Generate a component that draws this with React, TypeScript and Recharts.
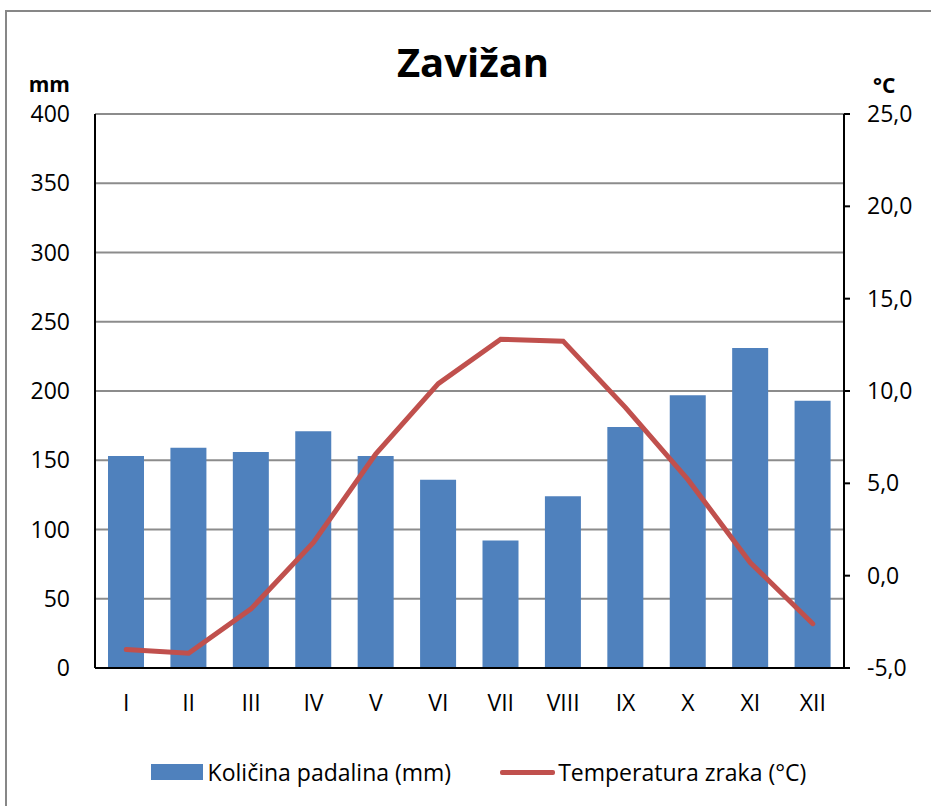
import React from "react";
import { ComposedChart, Bar, Line, XAxis, YAxis, CartesianGrid, Legend } from "recharts";

const months = ["I", "II", "III", "IV", "V", "VI", "VII", "VIII", "IX", "X", "XI", "XII"];
const precipitation = [153, 159, 156, 171, 153, 136, 92, 124, 174, 197, 231, 193];
const temperature = [-4.0, -4.2, -1.8, 1.8, 6.6, 10.4, 12.8, 12.7, 9.1, 5.2, 0.7, -2.6];
const leftTicks = [0, 50, 100, 150, 200, 250, 300, 350, 400];
const rightTicks = [-5, 0, 5, 10, 15, 20, 25];
const title = "Zavižan";
const precipName = "Količina padalina (mm)";
const tempName = "Temperatura zraka (°C)";

const data = months.map((m, i) => ({ month: m, p: precipitation[i], t: temperature[i] }));

const FONT = "'Open Sans', sans-serif";
const BAR = "#4F81BD";
const LINE = "#C0504D";

const fmtRight = (v: number) => v.toFixed(1).replace(".", ",");

const LegendContent = () => (
  <div
    style={{
      display: "flex",
      justifyContent: "center",
      alignItems: "center",
      height: 40,
      fontFamily: FONT,
      fontSize: 23,
      color: "#000",
      paddingLeft: 26,
    }}
  >
    <span style={{ display: "inline-block", width: 52, height: 16, background: BAR, marginRight: 5 }} />
    <span style={{ marginRight: 49 }}>{precipName}</span>
    <span style={{ display: "inline-block", width: 55, height: 5, background: LINE, marginRight: 3, borderRadius: 2 }} />
    <span>{tempName}</span>
  </div>
);

export default function App() {
  return (
    <div style={{ position: "absolute", left: 0, top: 0, width: 931, height: 806, background: "#fff" }}>
      <div
        style={{
          position: "absolute",
          left: 5,
          top: 10,
          width: 940,
          height: 820,
          border: "2px solid #878787",
          boxSizing: "border-box",
        }}
      />
      <div style={{ position: "absolute", left: 0, top: 0 }}>
        <ComposedChart
          width={931}
          height={806}
          data={data}
          margin={{ top: 114, right: 0, bottom: 14, left: 0 }}
        >
          <CartesianGrid yAxisId="left" vertical={false} stroke="#8c8c8c" strokeWidth={2} />
          <XAxis
            dataKey="month"
            height={84}
            tickLine={false}
            tickSize={0}
            tickMargin={27}
            axisLine={{ stroke: "#000", strokeWidth: 2 }}
            tick={{ fontFamily: FONT, fontSize: 23, fill: "#000" }}
            interval={0}
          />
          <YAxis
            yAxisId="left"
            orientation="left"
            width={95}
            domain={[0, 400]}
            ticks={leftTicks}
            tickLine={false}
            tickSize={0}
            tickMargin={25}
            axisLine={{ stroke: "#000", strokeWidth: 2 }}
            tick={{ fontFamily: FONT, fontSize: 23, fill: "#000" }}
          />
          <YAxis
            yAxisId="right"
            orientation="right"
            width={87}
            domain={[-5, 25]}
            ticks={rightTicks}
            tickFormatter={fmtRight}
            tickLine={{ stroke: "#000", strokeWidth: 2 }}
            tickSize={6}
            tickMargin={17}
            axisLine={{ stroke: "#000", strokeWidth: 2 }}
            tick={{ fontFamily: FONT, fontSize: 23, fill: "#000" }}
          />
          <Bar yAxisId="left" dataKey="p" name={precipName} fill={BAR} barSize={36} isAnimationActive={false} />
          <Line
            yAxisId="right"
            dataKey="t"
            name={tempName}
            type="linear"
            stroke={LINE}
            strokeWidth={5}
            strokeLinecap="round"
            dot={false}
            activeDot={false}
            isAnimationActive={false}
          />
          <Legend verticalAlign="bottom" height={40} content={<LegendContent />} />
        </ComposedChart>
      </div>
      <svg
        width={931}
        height={806}
        style={{ position: "absolute", left: 0, top: 0, pointerEvents: "none" }}
      >
        <text x={473} y={77} textAnchor="middle" fontFamily={FONT} fontWeight="bold" fontSize={40} fill="#000">
          {title}
        </text>
        <text x={70} y={92} textAnchor="end" fontFamily={FONT} fontWeight="bold" fontSize={21} fill="#000">
          mm
        </text>
        <text x={873} y={93} textAnchor="start" fontFamily={FONT} fontWeight="bold" fontSize={21} fill="#000">
          °C
        </text>
      </svg>
    </div>
  );
}
